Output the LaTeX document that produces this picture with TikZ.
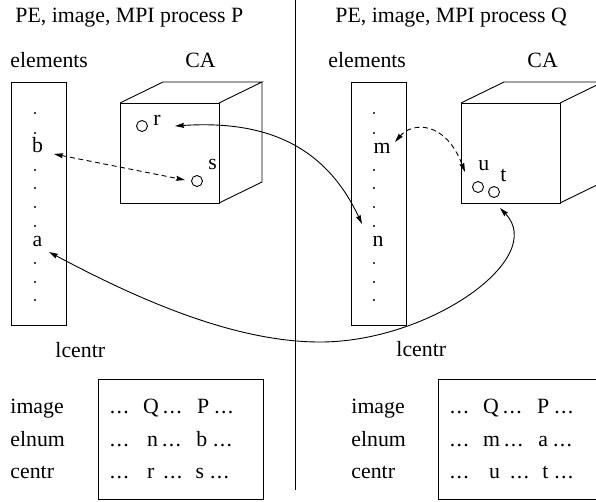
\documentclass[tikz,border=0pt]{standalone}
\usepackage{fontspec}
\setmainfont{Liberation Serif}
\usetikzlibrary{arrows.meta}
\newcommand{\eld}{.\kern1.3pt.\kern1.3pt.\kern1.3pt}
\newcommand{\hs}[1]{\hspace*{#1pt}}
\begin{document}
\begin{tikzpicture}[x=1pt,y=-1pt,line width=0.9pt,
  txt/.style={font=\fontsize{21.8}{26}\selectfont,inner sep=0pt,anchor=base west},
  lbl/.style={font=\fontsize{21.8}{26}\selectfont,inner sep=0pt,anchor=base},
  ring/.style={circle,draw,minimum size=11pt,inner sep=0pt},
  link/.style={{Stealth[length=9pt,width=5pt,inset=1pt]}-{Stealth[length=9pt,width=5pt,inset=1pt]}},
  dashlink/.style={link,dash pattern=on 5pt off 3.5pt}]
\useasboundingbox (0,0) rectangle (596,501);
\clip (0,0) rectangle (596,501);

% divider
\draw (295,0) -- (295,490);

% headings
\node[txt] (titleP) at (15,22) {PE, image, MPI process P};
\node[txt] (titleQ) at (335,22) {PE, image, MPI process Q};
\node[txt] (elemP) at (10,67) {elements};
\node[txt] (caP) at (185,67) {CA};
\node[txt] (elemQ) at (328,67) {elements};
\node[txt] (caQ) at (527,67) {CA};

% element columns
\draw (11,82) rectangle (66,325);
\draw (351,82) rectangle (406,325);
\foreach \yy in {113,133,170,188,207,226,263,282,300}{
  \fill (35,\yy) circle (1.1pt);
  \fill (374,\yy) circle (1.1pt);
}
\node[lbl] (b) at (37.5,152) {b};
\node[lbl] (a) at (37.5,246) {a};
\node[lbl] (m) at (382,153) {m};
\node[lbl] (n) at (378,246) {n};

% cube P
\draw (120,103) rectangle (219,203);
\draw (120,103) -- (163,82) -- (262,82) -- (219,103);
\draw (262,82) -- (262,182) -- (219,203);
% cube Q
\draw (461,103) rectangle (560,203);
\draw (461,103) -- (504,82) -- (603,82) -- (560,103);
\draw (603,82) -- (603,182) -- (560,203);

% circles in CA
\node[ring] (cr) at (142,126) {};
\node[txt] (rl) at (153,125) {r};
\node[ring] (cs) at (197,181) {};
\node[txt] (sl) at (208,169) {s};
\node[ring] (cu) at (478,187) {};
\node[txt] (ul) at (478,170) {u};
\node[ring] (ct) at (494,192) {};
\node[txt] (tl) at (500,181) {t};

% arrow end points
\coordinate (bTip) at (54,154);
\coordinate (sTip) at (185,180);
\coordinate (rTip) at (175,126);
\coordinate (nTip) at (362,224);
\coordinate (aTip) at (49,252);
\coordinate (qTip) at (500,208);
\coordinate (mTip) at (395,142);
\coordinate (uTip) at (465,172);

\draw[dashlink] (bTip) -- (sTip);
\draw[link] (rTip) .. controls (265,120) and (325,145) .. (nTip);
\draw[link] (aTip) .. controls (130,295) and (230,342) .. (320,342)
               .. controls (430,342) and (548,258) .. (qTip);
\draw[dashlink] (mTip) .. controls (412,122) and (445,120) .. (uTip);

% lcentr
\node[txt] (lcP) at (55,357) {lcentr};
\node[txt] (lcQ) at (396,356) {lcentr};

% tables
\draw (98,379) rectangle (263,499);
\draw (438,379) rectangle (620,499);
\node[txt] (imP) at (10,413) {image};
\node[txt] (elP) at (10,446) {elnum};
\node[txt] (ceP) at (10,478) {centr};
\node[txt] (imQ) at (351,413) {image};
\node[txt] (elQ) at (351,446) {elnum};
\node[txt] (ceQ) at (351,478) {centr};
\node[txt] (v1P) at (109.5,413) {\eld\hs{13}Q\hs{4}\eld\hs{14}P\hs{5}\eld};
\node[txt] (v2P) at (109.5,446) {\eld\hs{17}n\hs{4}\eld\hs{14}b\hs{6}\eld};
\node[txt] (v3P) at (109.5,478) {\eld\hs{17}r\hs{9}\eld\hs{12}s\hs{6}\eld};
\node[txt] (v1Q) at (449.5,413) {\eld\hs{13}Q\hs{4}\eld\hs{14}P\hs{5}\eld};
\node[txt] (v2Q) at (449.5,446) {\eld\hs{13}m\hs{4}\eld\hs{14}a\hs{5}\eld};
\node[txt] (v3Q) at (449.5,478) {\eld\hs{19}u\hs{10}\eld\hs{12}t\hs{6}\eld};
\end{tikzpicture}
\end{document}
